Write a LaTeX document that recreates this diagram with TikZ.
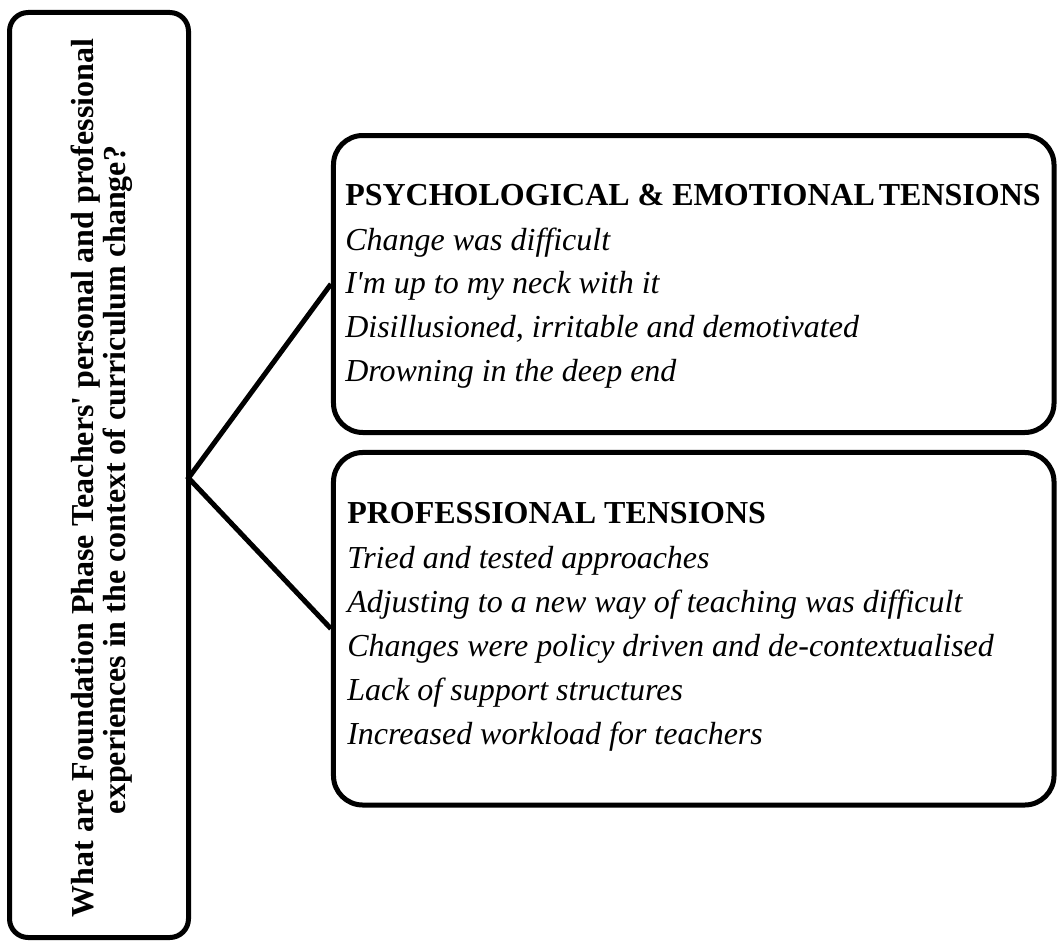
\documentclass[tikz,border=0pt]{standalone}
\usepackage{fontspec}
\setmainfont{Liberation Serif}
\begin{document}
\begin{tikzpicture}[x=0.75pt,y=-0.75pt,
  frame/.style={draw,line width=3.75pt,inner sep=0pt},
  bigfont/.style={font=\fontsize{24pt}{24pt}\selectfont\bfseries},
  headtext/.style={anchor=base west,inner sep=0pt,font=\fontsize{24pt}{33pt}\selectfont\bfseries},
  itemtext/.style={anchor=base west,inner sep=0pt,font=\fontsize{24pt}{33pt}\selectfont\itshape},
  conn/.style={line width=3.75pt}]
\useasboundingbox (0,0) rectangle (1057,942);
% boxes
\node[frame,rounded corners=14pt,minimum width=134.25pt,minimum height=693.75pt] (lbox) at (99,475) {};
\node[frame,rounded corners=22pt,minimum width=540.4pt,minimum height=222.75pt] (top) at (693.75,284) {};
\node[frame,rounded corners=22pt,minimum width=540.4pt,minimum height=264.4pt] (bot) at (693.75,628.75) {};
% question text
\node[bigfont,rotate=90,anchor=base,inner sep=0pt] (q1) at (93,478) {What are Foundation Phase Teachers\textquotesingle{} personal and professional};
\node[bigfont,rotate=90,anchor=base,inner sep=0pt] (q2) at (125,480) {experiences in the context of curriculum change?};
% connectors
\coordinate (j) at (188.5,478);
\draw[conn] (top.west) -- (j) -- (bot.west);
% top box text
\node[headtext] (h1) at (345,205) {PSYCHOLOGICAL \& EMOTIONAL\hspace{0.12em}TENSIONS};
\node[itemtext] (a1) at (345,250) {Change was difficult};
\node[itemtext] (a2) at (345,293) {I\textquotesingle m up to my neck with it};
\node[itemtext] (a3) at (345,337) {Disillusioned, irritable and demotivated};
\node[itemtext] (a4) at (345,381) {Drowning in the deep end};
% bottom box text
\node[headtext] (h2) at (347,523) {PROFESSIONAL TENSIONS};
\node[itemtext] (b1) at (347,568) {Tried and tested approaches};
\node[itemtext] (b2) at (347,612) {Adjusting to a new way of teaching was difficult};
\node[itemtext] (b3) at (347,656) {Changes were policy driven and de-contextualised};
\node[itemtext] (b4) at (347,700) {Lack of support structures};
\node[itemtext] (b5) at (347,744) {Increased workload for teachers};
\end{tikzpicture}
\end{document}
